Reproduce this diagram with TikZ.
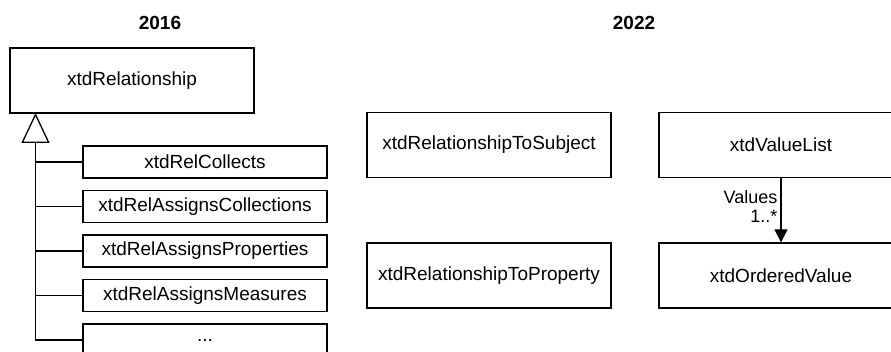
\documentclass[tikz,border=0pt]{standalone}
\usepackage{fontspec}
\setmainfont{Liberation Sans}
\usetikzlibrary{arrows.meta}

\begin{document}
\begin{tikzpicture}[x=1pt,y=-1pt,line width=1.3pt,
  cls/.style={draw,minimum width=244pt,minimum height=32pt,inner sep=0pt,font=\fontsize{19}{22}\selectfont},
  big/.style={cls,minimum height=65pt},
  year/.style={font=\fontsize{19}{22}\selectfont\bfseries},
  tag/.style={left,inner sep=3pt,font=\fontsize{18}{20}\selectfont}]
\useasboundingbox (0,0) rectangle (891,352);
\node [year] (y16) at (160,23) {2016};
\node [year] (y22) at (634,23) {2022};
\node [big] (rel) at (132,80.5) {xtdRelationship};
\node [cls] (collects) at (205,162) {xtdRelCollects};
\node [cls] (collections) at (205,206.5) {xtdRelAssignsCollections};
\node [cls] (properties) at (205,251) {xtdRelAssignsProperties};
\node [cls] (measures) at (205,295.5) {xtdRelAssignsMeasures};
\node [cls] (dots) at (205,340) {...};
\coordinate (hub) at (35.5,113);
\draw [-{Triangle[open,length=30pt,width=28pt]}] (dots.west) -| (hub);
\draw (collects.west) -- (collects.west -| hub);
\draw (collections.west) -- (collections.west -| hub);
\draw (properties.west) -- (properties.west -| hub);
\draw (measures.west) -- (measures.west -| hub);
\node [big] (tosubject) at (489,145) {xtdRelationshipToSubject};
\node [big] (toproperty) at (489,275.5) {xtdRelationshipToProperty};
\node [big] (valuelist) at (781,145) {xtdValueList};
\node [big] (ordered) at (781,275.5) {xtdOrderedValue};
\draw [-{Triangle[length=13pt,width=13pt]}] (valuelist) -- (ordered)
  node [tag,pos=0.29] {Values}
  node [tag,pos=0.6] {1..*};
\end{tikzpicture}
\end{document}
